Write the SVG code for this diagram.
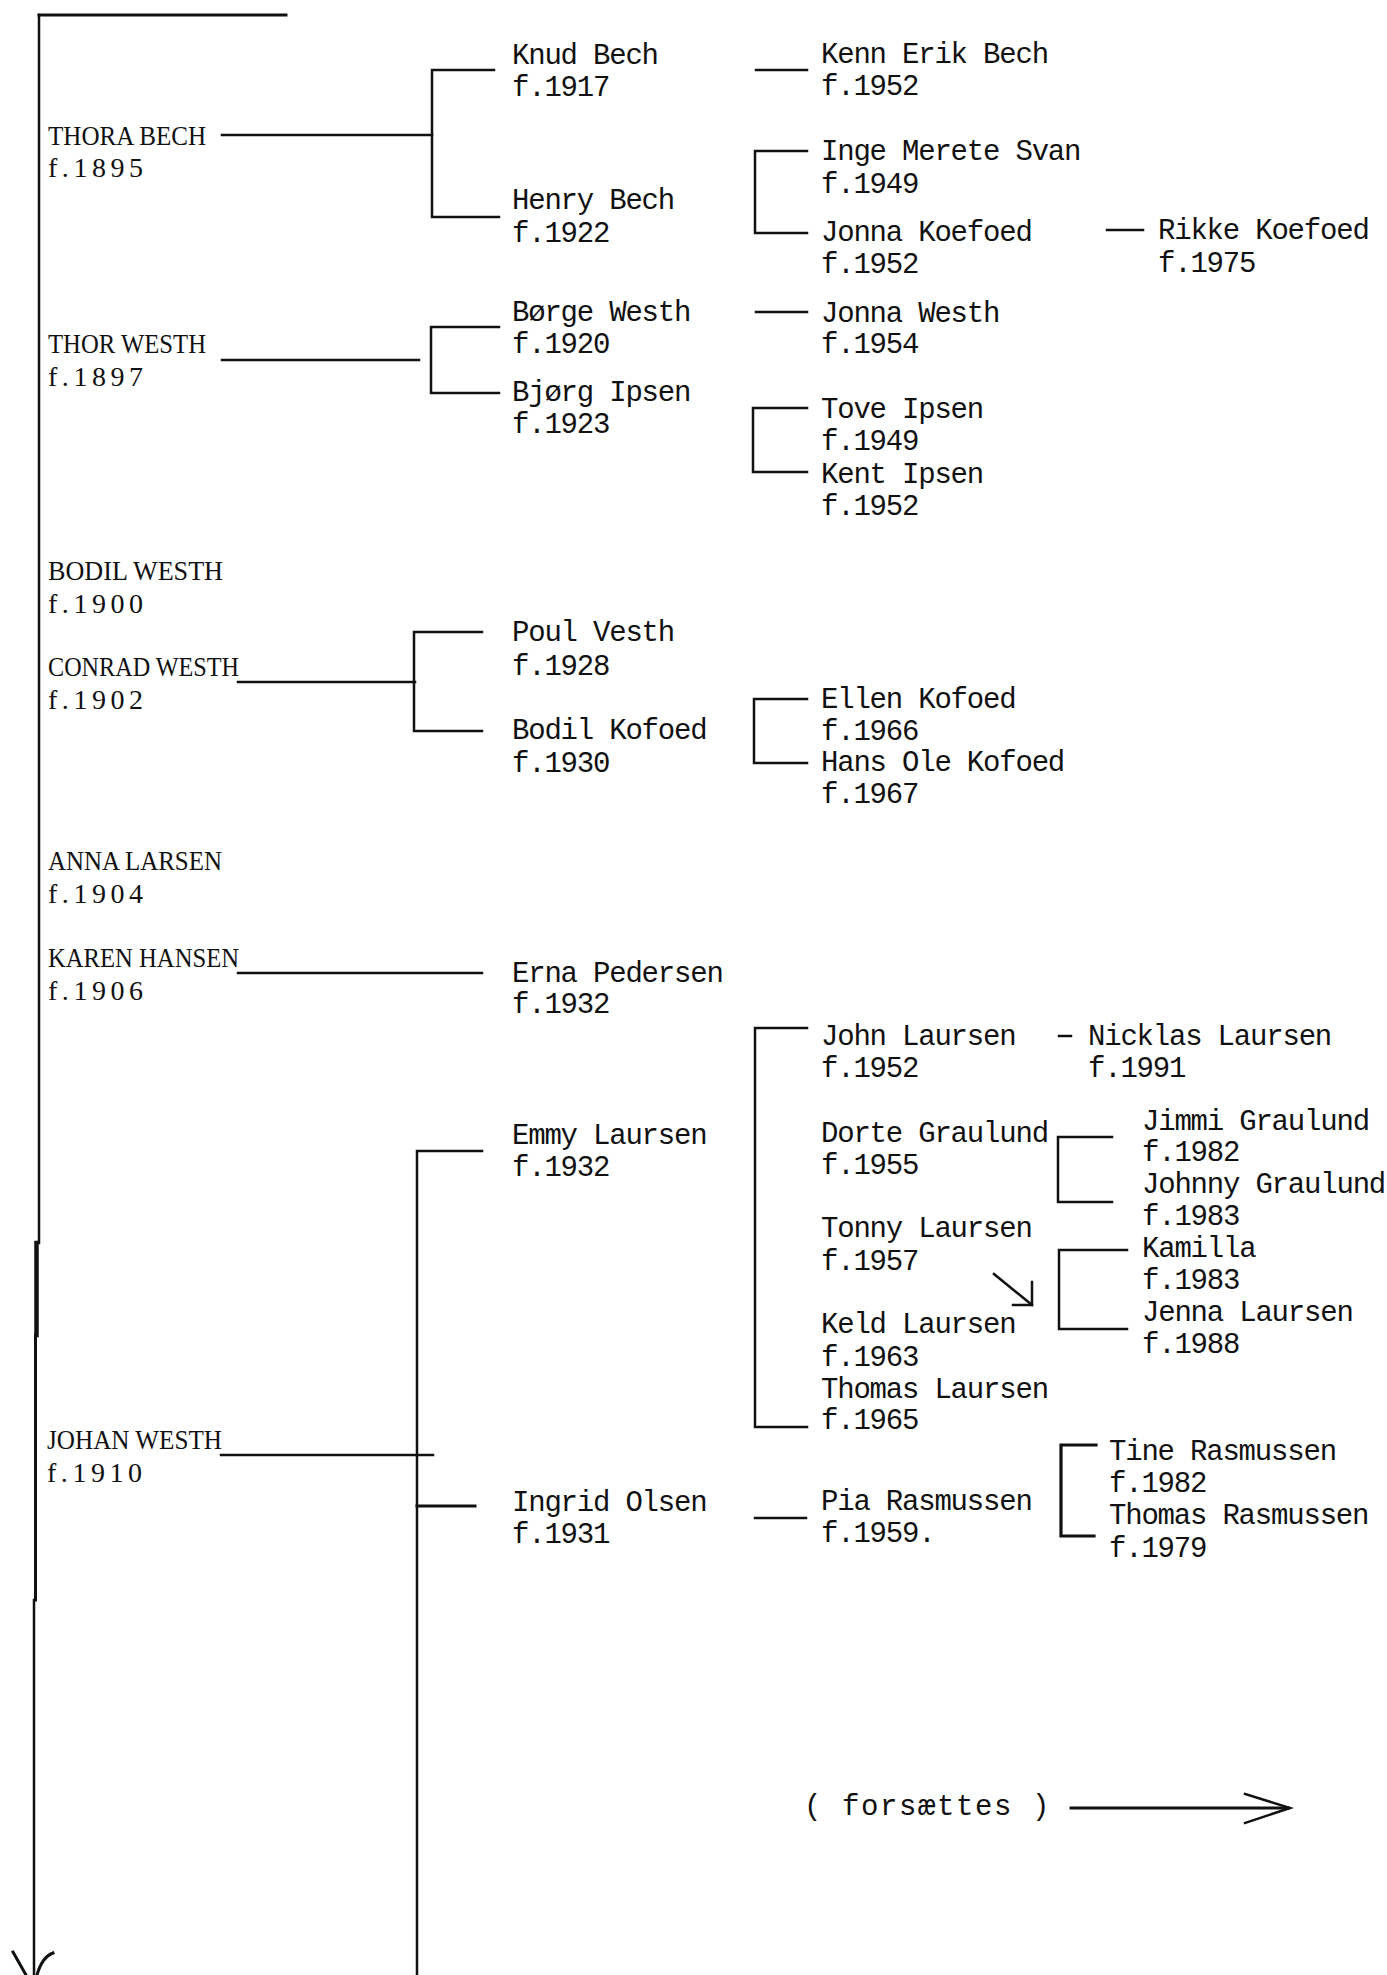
<svg xmlns="http://www.w3.org/2000/svg" width="1387" height="1975" viewBox="0 0 1387 1975">
<style>
.l{font-family:"Liberation Serif","Times New Roman",serif;font-size:28px;fill:#111}
.m{font-family:"Liberation Mono","Courier New",monospace;font-size:29px;letter-spacing:-1.2px;fill:#111}
.f{font-family:"Liberation Mono","Courier New",monospace;font-size:29px;letter-spacing:1.6px;fill:#111}
.c path{fill:none;stroke:#111;stroke-width:2.5;stroke-linecap:square}
</style>
<rect width="1387" height="1975" fill="#fff"/>
<g id="connectors" class="c">
<path d="M39 15 V1243"/>
<path d="M36.5 1243 V1335" style="stroke-width:4.5"/>
<path d="M35.5 1335 V1600" style="stroke-width:3"/>
<path d="M34 1600 V1975"/>
<path d="M39 15 H286" style="stroke-width:3"/>
<path d="M222 135 H432"/>
<path d="M494 70 H432 V217 H499"/>
<path d="M222 360 H419"/>
<path d="M499 327 H431 V393 H499"/>
<path d="M756 70 H807"/>
<path d="M807 151 H755 V233 H807"/>
<path d="M1107 230 H1143"/>
<path d="M756 312 H807"/>
<path d="M807 408 H753 V472 H807"/>
<path d="M238 682 H415"/>
<path d="M482 632 H414 V731 H482"/>
<path d="M807 699 H754 V763 H807"/>
<path d="M238 973 H482"/>
<path d="M482 1151 H417 V1975"/>
<path d="M417 1506 H475" style="stroke-width:3"/>
<path d="M221 1455 H433"/>
<path d="M807 1028 H755 V1427 H807"/>
<path d="M1059 1036 H1071"/>
<path d="M1112 1137 H1058 V1202 H1112"/>
<path d="M1127 1250 H1059 V1329 H1127"/>
<path d="M994 1274 L1032 1305"/>
<path d="M1032 1282 V1305 H1013"/>
<path d="M755 1518 H806"/>
<path d="M1096 1445 H1061 V1536 H1094" style="stroke-width:3.2"/>
<path d="M1071 1808 H1288" style="stroke-width:3"/>
<path d="M1245 1794 L1290 1808 L1245 1823"/>
<path d="M13 1952 L26 1975" style="stroke-width:3"/>
<path d="M53 1953 Q42 1957 37 1975" style="stroke-width:3"/>
</g>
<g id="thora-bech"><text class="l" x="48" y="145" textLength="158" lengthAdjust="spacingAndGlyphs">THORA BECH</text><text class="l" x="48" y="177" textLength="95" lengthAdjust="spacing">f.1895</text></g>
<g id="thor-westh"><text class="l" x="48" y="353" textLength="158" lengthAdjust="spacingAndGlyphs">THOR WESTH</text><text class="l" x="48" y="386" textLength="95" lengthAdjust="spacing">f.1897</text></g>
<g id="bodil-westh"><text class="l" x="48" y="580" textLength="175" lengthAdjust="spacingAndGlyphs">BODIL WESTH</text><text class="l" x="48" y="613" textLength="95" lengthAdjust="spacing">f.1900</text></g>
<g id="conrad-westh"><text class="l" x="48" y="676" textLength="191" lengthAdjust="spacingAndGlyphs">CONRAD WESTH</text><text class="l" x="48" y="709" textLength="95" lengthAdjust="spacing">f.1902</text></g>
<g id="anna-larsen"><text class="l" x="48" y="870" textLength="174" lengthAdjust="spacingAndGlyphs">ANNA LARSEN</text><text class="l" x="48" y="903" textLength="95" lengthAdjust="spacing">f.1904</text></g>
<g id="karen-hansen"><text class="l" x="48" y="967" textLength="191" lengthAdjust="spacingAndGlyphs">KAREN HANSEN</text><text class="l" x="48" y="1000" textLength="95" lengthAdjust="spacing">f.1906</text></g>
<g id="johan-westh"><text class="l" x="47" y="1449" textLength="175" lengthAdjust="spacingAndGlyphs">JOHAN WESTH</text><text class="l" x="47" y="1482" textLength="95" lengthAdjust="spacing">f.1910</text></g>

<g id="knud-bech"><text class="m" x="512" y="64">Knud Bech</text><text class="m" x="512" y="96">f.1917</text></g>
<g id="henry-bech"><text class="m" x="512" y="209">Henry Bech</text><text class="m" x="512" y="242">f.1922</text></g>
<g id="borge-westh"><text class="m" x="512" y="321">Børge Westh</text><text class="m" x="512" y="353">f.1920</text></g>
<g id="bjorg-ipsen"><text class="m" x="512" y="401">Bjørg Ipsen</text><text class="m" x="512" y="433">f.1923</text></g>
<g id="poul-vesth"><text class="m" x="512" y="641">Poul Vesth</text><text class="m" x="512" y="675">f.1928</text></g>
<g id="bodil-kofoed"><text class="m" x="512" y="739">Bodil Kofoed</text><text class="m" x="512" y="772">f.1930</text></g>
<g id="erna-pedersen"><text class="m" x="512" y="982">Erna Pedersen</text><text class="m" x="512" y="1013">f.1932</text></g>
<g id="emmy-laursen"><text class="m" x="512" y="1144">Emmy Laursen</text><text class="m" x="512" y="1176">f.1932</text></g>
<g id="ingrid-olsen"><text class="m" x="512" y="1511">Ingrid Olsen</text><text class="m" x="512" y="1543">f.1931</text></g>

<g id="kenn-erik-bech"><text class="m" x="821" y="63">Kenn Erik Bech</text><text class="m" x="821" y="95">f.1952</text></g>
<g id="inge-merete-svan"><text class="m" x="821" y="160">Inge Merete Svan</text><text class="m" x="821" y="193">f.1949</text></g>
<g id="jonna-koefoed"><text class="m" x="821" y="241">Jonna Koefoed</text><text class="m" x="821" y="273">f.1952</text></g>
<g id="jonna-westh"><text class="m" x="821" y="322">Jonna Westh</text><text class="m" x="821" y="353">f.1954</text></g>
<g id="tove-ipsen"><text class="m" x="821" y="418">Tove Ipsen</text><text class="m" x="821" y="450">f.1949</text></g>
<g id="kent-ipsen"><text class="m" x="821" y="483">Kent Ipsen</text><text class="m" x="821" y="515">f.1952</text></g>
<g id="ellen-kofoed"><text class="m" x="821" y="708">Ellen Kofoed</text><text class="m" x="821" y="740">f.1966</text></g>
<g id="hans-ole-kofoed"><text class="m" x="821" y="771">Hans Ole Kofoed</text><text class="m" x="821" y="803">f.1967</text></g>
<g id="john-laursen"><text class="m" x="821" y="1045">John Laursen</text><text class="m" x="821" y="1077">f.1952</text></g>
<g id="dorte-graulund"><text class="m" x="821" y="1142">Dorte Graulund</text><text class="m" x="821" y="1174">f.1955</text></g>
<g id="tonny-laursen"><text class="m" x="821" y="1237">Tonny Laursen</text><text class="m" x="821" y="1270">f.1957</text></g>
<g id="keld-laursen"><text class="m" x="821" y="1333">Keld Laursen</text><text class="m" x="821" y="1366">f.1963</text></g>
<g id="thomas-laursen"><text class="m" x="821" y="1398">Thomas Laursen</text><text class="m" x="821" y="1429">f.1965</text></g>
<g id="pia-rasmussen"><text class="m" x="821" y="1510">Pia Rasmussen</text><text class="m" x="821" y="1542">f.1959.</text></g>

<g id="rikke-koefoed"><text class="m" x="1158" y="239">Rikke Koefoed</text><text class="m" x="1158" y="272">f.1975</text></g>
<g id="nicklas-laursen"><text class="m" x="1088" y="1045">Nicklas Laursen</text><text class="m" x="1088" y="1077">f.1991</text></g>
<g id="jimmi-graulund"><text class="m" x="1142" y="1130">Jimmi Graulund</text><text class="m" x="1142" y="1161">f.1982</text></g>
<g id="johnny-graulund"><text class="m" x="1142" y="1193">Johnny Graulund</text><text class="m" x="1142" y="1225">f.1983</text></g>
<g id="kamilla"><text class="m" x="1142" y="1257">Kamilla</text><text class="m" x="1142" y="1289">f.1983</text></g>
<g id="jenna-laursen"><text class="m" x="1142" y="1321">Jenna Laursen</text><text class="m" x="1142" y="1353">f.1988</text></g>
<g id="tine-rasmussen"><text class="m" x="1109" y="1460">Tine Rasmussen</text><text class="m" x="1109" y="1492">f.1982</text></g>
<g id="thomas-rasmussen"><text class="m" x="1109" y="1524">Thomas Rasmussen</text><text class="m" x="1109" y="1557">f.1979</text></g>

<g id="forsaettes"><text class="f" x="804" y="1815">( forsættes )</text></g>
</svg>
